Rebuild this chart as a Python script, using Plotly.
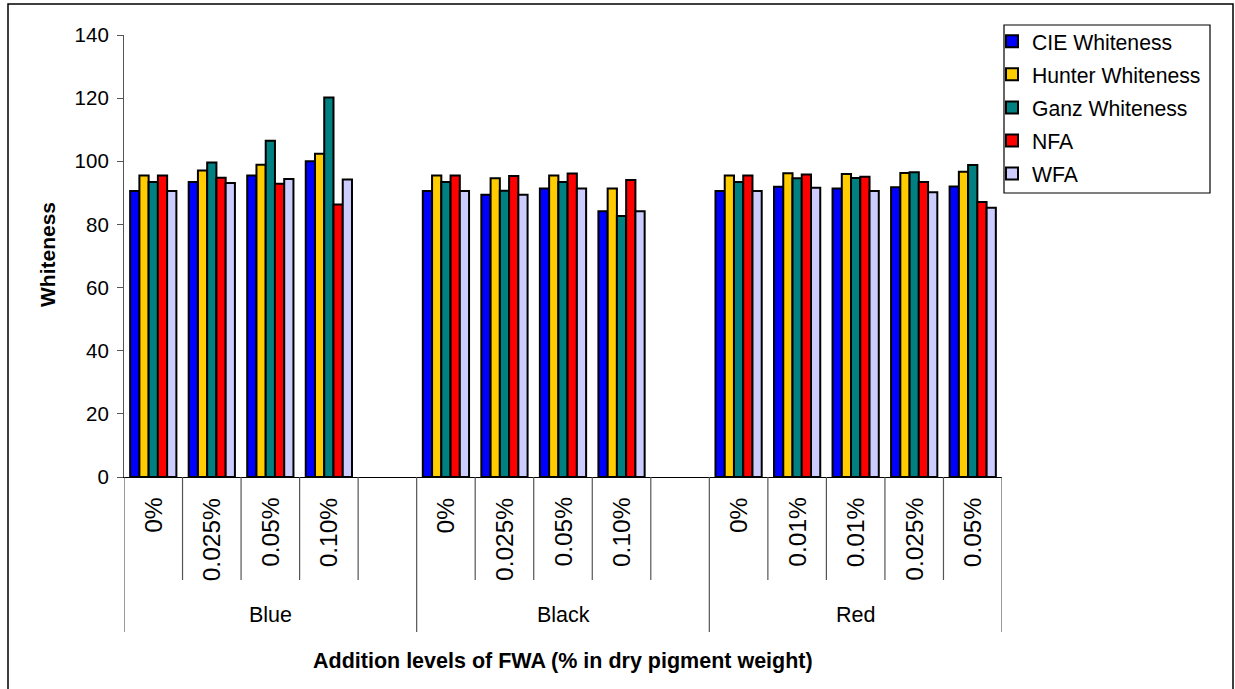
import plotly.graph_objects as go

# Pigment groups and FWA addition levels (inner category labels)
groups = ["Blue", "Black", "Red"]
levels = {
    "Blue": ["0%", "0.025%", "0.05%", "0.10%"],
    "Black": ["0%", "0.025%", "0.05%", "0.10%"],
    "Red": ["0%", "0.01%", "0.01%", "0.025%", "0.05%"],
}

# Whiteness indices per group, one value per addition level
cie = {
    "Blue": [90.6, 93.4, 95.5, 100.0],
    "Black": [90.6, 89.4, 91.4, 84.2],
    "Red": [90.6, 91.9, 91.4, 91.8, 92.0],
}
hunter = {
    "Blue": [95.5, 97.1, 98.9, 102.4],
    "Black": [95.5, 94.6, 95.5, 91.4],
    "Red": [95.5, 96.2, 96.0, 96.3, 96.7],
}
ganz = {
    "Blue": [93.4, 99.6, 106.5, 120.2],
    "Black": [93.4, 90.7, 93.4, 82.7],
    "Red": [93.4, 94.6, 94.7, 96.5, 98.8],
}
nfa = {
    "Blue": [95.5, 94.8, 92.9, 86.3],
    "Black": [95.5, 95.3, 96.1, 94.1],
    "Red": [95.5, 95.8, 95.1, 93.4, 87.1],
}
wfa = {
    "Blue": [90.6, 93.1, 94.4, 94.2],
    "Black": [90.6, 89.4, 91.4, 84.2],
    "Red": [90.6, 91.6, 90.6, 90.2, 85.3],
}

series = [
    ("CIE Whiteness", cie, "#0000FF"),
    ("Hunter Whiteness", hunter, "#FFCC00"),
    ("Ganz Whiteness", ganz, "#008080"),
    ("NFA", nfa, "#FF0000"),
    ("WFA", wfa, "#CCCCFF"),
]

y_ticks = [0, 20, 40, 60, 80, 100, 120, 140]

FONT = "Arial, Liberation Sans, sans-serif"

# Each pigment group occupies the same number of category slots
span = max(len(v) for v in levels.values())
slot_x = []          # x position of every level slot
slot_label = []
for gi, g in enumerate(groups):
    start = gi * span
    for li, lab in enumerate(levels[g]):
        slot_x.append(start + li)
        slot_label.append(lab)
n_slots = span * len(groups)

fig = go.Figure()
for idx, (name, data, color) in enumerate(series):
    xs, ys = [], []
    for gi, g in enumerate(groups):
        for li, v in enumerate(data[g]):
            xs.append(gi * span + li)
            ys.append(v)
    fig.add_trace(go.Bar(
        x=xs, y=ys, name=name,
        marker=dict(color=color, line=dict(color="black", width=2)),
        legendgroup=f"g{idx}",
        hoverinfo="x+y+name",
    ))

# Pixel geometry of the plotting area
W, H = 1235, 689
L, R, T, B = 124, 233, 35, 212
pw, ph = W - L - R, H - T - B


def px_x(p):
    return (p - L) / pw


def px_y(p):
    return (H - B - p) / ph


shapes = []
annotations = []

# Tick separators between slots; group boundaries run deeper
for k in range(n_slots + 1):
    is_group = k % span == 0
    bottom = 632 if is_group else 580
    shapes.append(dict(
        type="line", xref="x", yref="paper",
        x0=k - 0.5, x1=k - 0.5, y0=0, y1=px_y(bottom),
        line=dict(color="#555555", width=1.2),
    ))

# Level labels (rotated)
for x, lab in zip(slot_x, slot_label):
    annotations.append(dict(
        x=x, y=0, xref="x", yref="paper", text=lab, showarrow=False,
        textangle=-90, yanchor="top", xanchor="center", yshift=-19,
        font=dict(family=FONT, size=24.5, color="black"),
    ))

# Group labels
for gi, g in enumerate(groups):
    annotations.append(dict(
        x=gi * span + (span - 1) / 2, y=px_y(615), xref="x", yref="paper",
        text=g, showarrow=False, yanchor="middle", xanchor="center",
        font=dict(family=FONT, size=21.5, color="black"),
    ))

# Axis titles
annotations.append(dict(
    x=0.5, y=px_y(661), xref="paper", yref="paper",
    text="<b>Addition levels of FWA (% in dry pigment weight)</b>",
    showarrow=False, xanchor="center", yanchor="middle",
    font=dict(family=FONT, size=21.5, color="black"),
))
annotations.append(dict(
    x=px_x(47), y=px_y(255), xref="paper", yref="paper",
    text="<b>Whiteness</b>", textangle=-90,
    showarrow=False, xanchor="center", yanchor="middle",
    font=dict(family=FONT, size=21, color="black"),
))

# Legend frame
shapes.append(dict(
    type="rect", xref="paper", yref="paper",
    x0=px_x(1004), x1=px_x(1210), y0=px_y(193), y1=px_y(25),
    line=dict(color="black", width=1.2), fillcolor="rgba(0,0,0,0)",
))

# Outer chart frame
shapes.append(dict(
    type="rect", xref="paper", yref="paper",
    x0=px_x(8), x1=px_x(1233), y0=px_y(692), y1=px_y(4),
    line=dict(color="black", width=1.5), fillcolor="rgba(0,0,0,0)",
))

fig.update_layout(
    width=W, height=H,
    margin=dict(l=L, r=R, t=T, b=B),
    paper_bgcolor="white", plot_bgcolor="white",
    barmode="group", bargap=0.21, bargroupgap=0,
    font=dict(family=FONT, size=20, color="black"),
    showlegend=True,
    legend=dict(
        x=px_x(992), y=px_y(21), xanchor="left", yanchor="top",
        bgcolor="rgba(0,0,0,0)", borderwidth=0,
        font=dict(family=FONT, size=21.2, color="black"),
        tracegroupgap=2.5, itemwidth=30,
    ),
    xaxis=dict(
        range=[-0.5, n_slots - 0.5], showticklabels=False, ticks="",
        showgrid=False, zeroline=False, showline=True,
        linecolor="black", linewidth=1.2, fixedrange=True,
    ),
    yaxis=dict(
        range=[0, 140], tickvals=y_ticks, showgrid=False, zeroline=False,
        showline=True, linecolor="#555555", linewidth=1.2,
        ticks="outside", ticklen=6, tickcolor="#555555", tickwidth=1.2,
        tickfont=dict(family=FONT, size=20.5, color="black"),
        ticklabelstandoff=4,
    ),
    shapes=shapes,
    annotations=annotations,
)

fig.write_html("out.html")
